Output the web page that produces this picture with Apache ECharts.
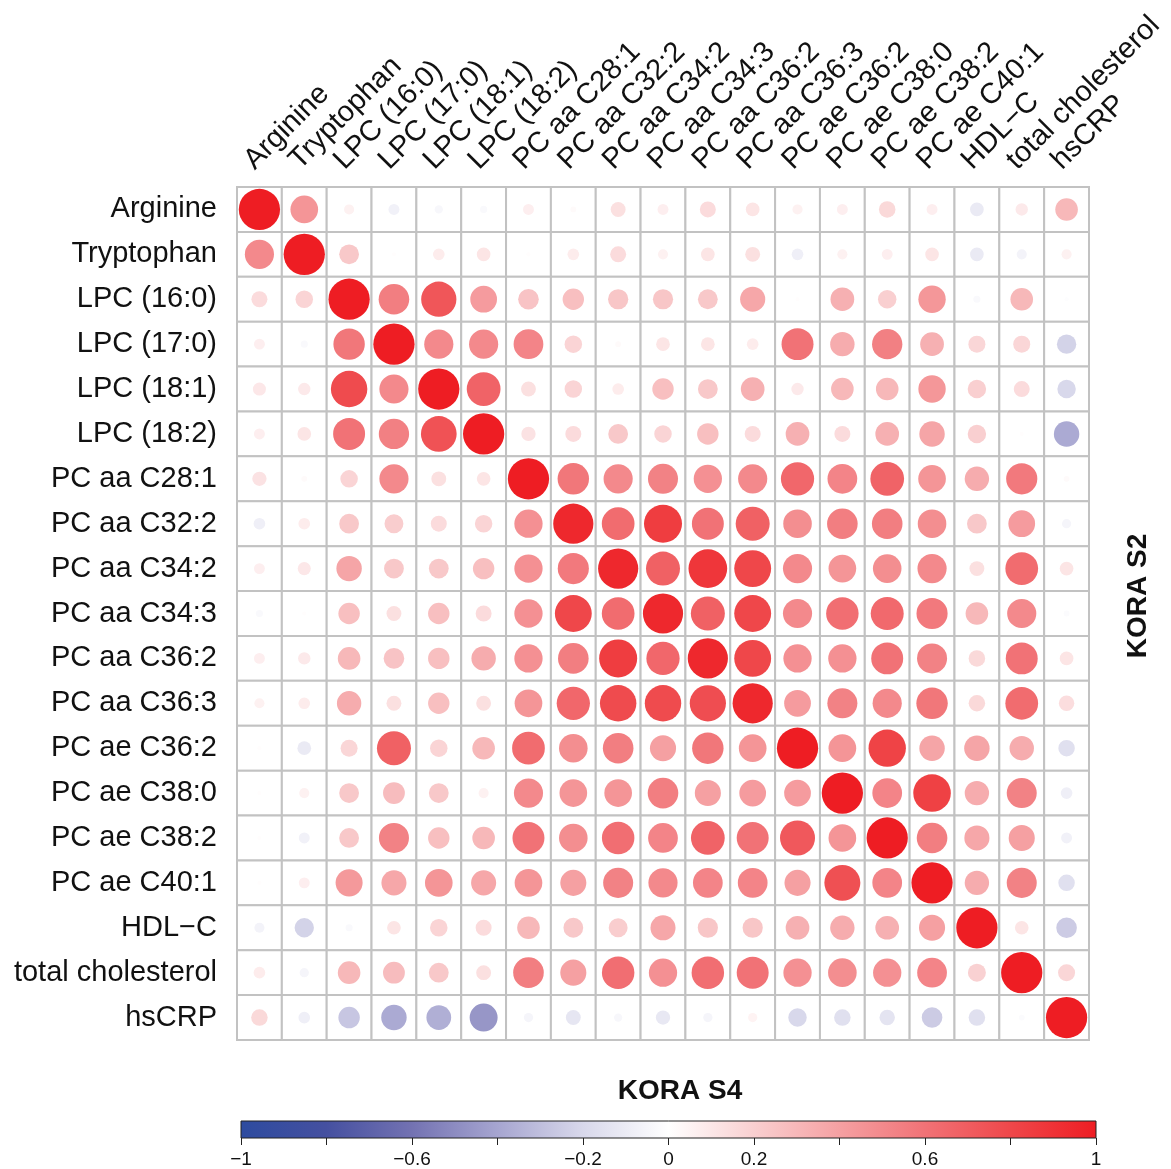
<!DOCTYPE html>
<html>
<head>
<meta charset="utf-8">
<script src="https://cdn.jsdelivr.net/npm/echarts@6/dist/echarts.min.js"></script>
<style>
  html, body { margin: 0; padding: 0; background: #fff; }
  #chart { width: 1171px; height: 1169px; }
</style>
</head>
<body>
<div id="chart"></div>
<script>
// variable names (same order on both axes)
var labels = ['Arginine', 'Tryptophan', 'LPC (16:0)', 'LPC (17:0)', 'LPC (18:1)', 'LPC (18:2)',
  'PC aa C28:1', 'PC aa C32:2', 'PC aa C34:2', 'PC aa C34:3', 'PC aa C36:2', 'PC aa C36:3',
  'PC ae C36:2', 'PC ae C38:0', 'PC ae C38:2', 'PC ae C40:1', 'HDL\u2212C', 'total cholesterol', 'hsCRP'];

// correlations, one row per variable (row = y, column = x)
var corr = [
  [1.00, 0.45, 0.06, -0.07, -0.04, -0.03, 0.07, 0.02, 0.13, 0.07, 0.15, 0.11, 0.06, 0.07, 0.16, 0.07, -0.11, 0.09, 0.30],
  [0.50, 1.00, 0.23, 0.01, 0.08, 0.11, 0.01, 0.08, 0.15, 0.06, 0.11, 0.13, -0.08, 0.06, 0.07, 0.11, -0.11, -0.06, 0.06],
  [0.15, 0.18, 1.00, 0.55, 0.73, 0.42, 0.25, 0.27, 0.24, 0.24, 0.23, 0.37, 0.01, 0.33, 0.20, 0.44, -0.03, 0.30, -0.01],
  [0.07, -0.03, 0.58, 1.00, 0.50, 0.50, 0.52, 0.18, 0.02, 0.11, 0.11, 0.08, 0.60, 0.35, 0.54, 0.33, 0.17, 0.17, -0.22],
  [0.10, 0.09, 0.78, 0.50, 1.00, 0.67, 0.13, 0.18, 0.08, 0.27, 0.23, 0.33, 0.09, 0.30, 0.30, 0.44, 0.20, 0.15, -0.20],
  [0.07, 0.11, 0.60, 0.54, 0.75, 1.00, 0.12, 0.15, 0.23, 0.18, 0.27, 0.15, 0.33, 0.15, 0.33, 0.38, 0.20, 0.01, -0.38],
  [0.12, 0.02, 0.18, 0.50, 0.13, 0.11, 1.00, 0.58, 0.50, 0.53, 0.47, 0.50, 0.65, 0.52, 0.67, 0.45, 0.35, 0.57, 0.02],
  [-0.08, 0.08, 0.23, 0.21, 0.15, 0.18, 0.47, 0.95, 0.63, 0.85, 0.60, 0.68, 0.48, 0.55, 0.55, 0.48, 0.23, 0.42, -0.05],
  [0.07, 0.10, 0.38, 0.23, 0.23, 0.27, 0.47, 0.57, 0.95, 0.68, 0.88, 0.80, 0.50, 0.45, 0.48, 0.50, 0.13, 0.63, 0.11],
  [-0.03, 0.01, 0.27, 0.13, 0.27, 0.15, 0.47, 0.80, 0.63, 0.95, 0.68, 0.80, 0.50, 0.62, 0.64, 0.57, 0.30, 0.50, -0.02],
  [0.07, 0.09, 0.30, 0.25, 0.27, 0.35, 0.47, 0.55, 0.85, 0.65, 0.95, 0.80, 0.47, 0.47, 0.60, 0.53, 0.16, 0.60, 0.11],
  [0.06, 0.08, 0.35, 0.13, 0.27, 0.13, 0.45, 0.65, 0.78, 0.78, 0.77, 0.95, 0.42, 0.53, 0.50, 0.58, 0.16, 0.63, 0.14],
  [0.01, -0.11, 0.17, 0.68, 0.18, 0.30, 0.63, 0.48, 0.55, 0.40, 0.58, 0.45, 1.00, 0.45, 0.82, 0.38, 0.38, 0.35, -0.16],
  [0.01, 0.06, 0.23, 0.28, 0.23, 0.06, 0.50, 0.45, 0.45, 0.55, 0.40, 0.42, 0.42, 1.00, 0.52, 0.83, 0.35, 0.53, -0.08],
  [0.01, -0.07, 0.23, 0.53, 0.27, 0.30, 0.60, 0.48, 0.62, 0.52, 0.67, 0.60, 0.72, 0.45, 1.00, 0.55, 0.37, 0.40, -0.07],
  [0.01, 0.07, 0.43, 0.37, 0.45, 0.37, 0.45, 0.40, 0.53, 0.50, 0.52, 0.52, 0.40, 0.76, 0.52, 1.00, 0.35, 0.53, -0.16],
  [-0.06, -0.22, -0.03, 0.11, 0.18, 0.15, 0.30, 0.23, 0.21, 0.37, 0.24, 0.24, 0.33, 0.35, 0.33, 0.40, 1.00, 0.11, -0.25],
  [0.08, -0.05, 0.30, 0.28, 0.23, 0.13, 0.55, 0.40, 0.62, 0.47, 0.62, 0.60, 0.47, 0.48, 0.47, 0.52, 0.19, 1.00, 0.17],
  [0.16, -0.08, -0.27, -0.38, -0.36, -0.46, -0.05, -0.13, -0.04, -0.12, -0.05, 0.05, -0.20, -0.16, -0.14, -0.25, -0.16, -0.02, 1.00]
];

// colour scale stops from -1 to 1
var scaleStops = [-1, -0.8, -0.6, -0.4, -0.2, 0, 0.2, 0.4, 0.6, 0.8, 1];
var scaleColors = ['#2D4B9F', '#4550A0', '#7372B2', '#A6A5D0', '#D8D8EB', '#FFFFFF',
  '#F9CFD0', '#F5A0A2', '#F17276', '#EF474A', '#EE1D23'];
var barLabels = [-1, -0.6, -0.2, 0, 0.2, 0.6, 1];

var cells = [];
corr.forEach(function (row, y) {
  row.forEach(function (v, x) {
    cells.push([x, y, v]);
  });
});

var fontFam = '"Liberation Sans", Arial, sans-serif';
var chart = echarts.init(document.getElementById('chart'));

chart.setOption({
  backgroundColor: '#fff',
  animation: false,
  grid: [
    { left: 237, top: 187, width: 852, height: 853, outerBoundsMode: 'none', containLabel: false },
    { left: 241, top: 1121, width: 855, height: 17, outerBoundsMode: 'none', containLabel: false }
  ],
  xAxis: [{
    type: 'category', gridIndex: 0, data: labels, position: 'top',
    axisLine: { show: false }, axisTick: { show: false }, splitLine: { show: false },
    axisLabel: {
      rotate: -45, interval: 0, margin: 12, verticalAlign: 'bottom',
      fontSize: 29, color: '#111', fontFamily: fontFam
    }
  }, {
    type: 'value', gridIndex: 1, min: -1, max: 1, interval: 0.2,
    axisLine: { show: false }, splitLine: { show: false },
    axisTick: { show: true, length: 7, lineStyle: { color: '#222', width: 1 } },
    axisLabel: {
      margin: 12, fontSize: 19, color: '#111', fontFamily: fontFam, showMinLabel: true, showMaxLabel: true,
      formatter: function (v) {
        var r = Math.round(v * 10) / 10;
        if (barLabels.indexOf(r) < 0) return '';
        return String(r).replace('-', '\u2212');
      }
    }
  }],
  yAxis: [{
    type: 'category', gridIndex: 0, data: labels, inverse: true,
    axisLine: { show: false }, axisTick: { show: false }, splitLine: { show: false },
    axisLabel: { interval: 0, margin: 20, fontSize: 29, color: '#111', fontFamily: fontFam }
  }, {
    type: 'value', gridIndex: 1, min: 0, max: 1, show: false
  }],
  visualMap: {
    show: false, type: 'continuous', min: -1, max: 1, dimension: 2, seriesIndex: 0,
    inRange: { color: scaleColors }
  },
  series: [{
    type: 'custom',
    xAxisIndex: 0, yAxisIndex: 0,
    data: cells,
    renderItem: function (params, api) {
      var c = api.coord([api.value(0), api.value(1)]);
      var s = api.size([1, 1]);
      var v = api.value(2);
      var r = 0.46 * Math.min(s[0], s[1]) * Math.sqrt(Math.abs(v));
      return {
        type: 'group',
        children: [{
          type: 'rect',
          shape: { x: c[0] - s[0] / 2, y: c[1] - s[1] / 2, width: s[0], height: s[1] },
          style: { fill: '#fff', stroke: '#c2c2c2', lineWidth: 2 }
        }, {
          type: 'circle',
          shape: { cx: c[0], cy: c[1], r: r },
          style: { fill: api.visual('color') }
        }]
      };
    }
  }, {
    // colour bar
    type: 'custom',
    xAxisIndex: 1, yAxisIndex: 1,
    data: [[-1, 1]],
    renderItem: function (params, api) {
      var p0 = api.coord([api.value(0), 0]);
      var p1 = api.coord([api.value(1), 1]);
      var stops = scaleStops.map(function (s, i) {
        return { offset: (s + 1) / 2, color: scaleColors[i] };
      });
      return {
        type: 'rect',
        shape: { x: p0[0], y: p1[1], width: p1[0] - p0[0], height: p0[1] - p1[1] },
        style: { fill: new echarts.graphic.LinearGradient(0, 0, 1, 0, stops), stroke: '#222', lineWidth: 1 }
      };
    }
  }],
  graphic: [{
    type: 'text', x: 680, y: 1091,
    style: { text: 'KORA S4', font: 'bold 28px ' + fontFam, fill: '#111', textAlign: 'center', textVerticalAlign: 'middle' }
  }, {
    type: 'text', x: 1138, y: 596, rotation: Math.PI / 2,
    style: { text: 'KORA S2', font: 'bold 28px ' + fontFam, fill: '#111', textAlign: 'center', textVerticalAlign: 'middle' }
  }]
});
</script>
</body>
</html>
